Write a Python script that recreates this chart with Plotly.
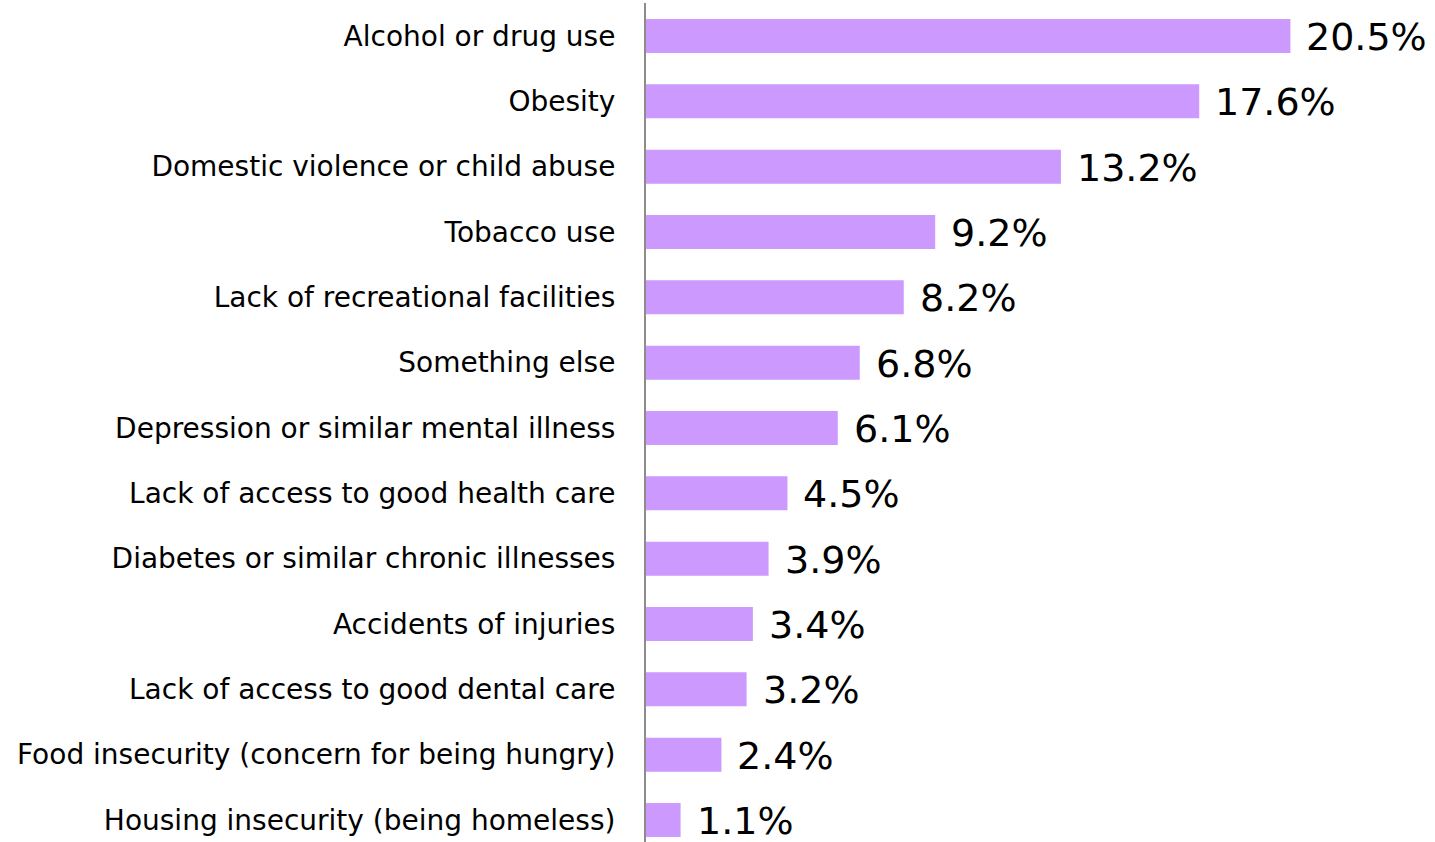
import plotly.graph_objects as go

# Categories top to bottom
categories = [
    "Alcohol or drug use",
    "Obesity",
    "Domestic violence or child abuse",
    "Tobacco use",
    "Lack of recreational facilities",
    "Something else",
    "Depression or similar mental illness",
    "Lack of access to good health care",
    "Diabetes or similar chronic illnesses",
    "Accidents of injuries",
    "Lack of access to good dental care",
    "Food insecurity (concern for being hungry)",
    "Housing insecurity (being homeless)",
]
values = [20.5, 17.6, 13.2, 9.2, 8.2, 6.8, 6.1, 4.5, 3.9, 3.4, 3.2, 2.4, 1.1]
value_labels = [f"{v:.1f}%" for v in values]

bar_color = "#CC99FF"
font_family = "DejaVu Sans"

fig = go.Figure()
fig.add_trace(go.Bar(
    x=values,
    y=categories,
    orientation="h",
    marker=dict(color=bar_color, line=dict(width=0)),
    width=0.52,
    hoverinfo="x+y",
))

# Value labels to the right of each bar
for cat, val, lab in zip(categories, values, value_labels):
    fig.add_annotation(
        x=val, y=cat, text=lab, showarrow=False,
        xanchor="left", yanchor="middle", xshift=14, yshift=-1,
        font=dict(family=font_family, size=38, color="#000000"),
    )

fig.update_layout(
    width=1435, height=842,
    margin=dict(l=646, r=0, t=3, b=0),
    paper_bgcolor="white",
    plot_bgcolor="white",
    showlegend=False,
    font=dict(family=font_family, size=28, color="#000000"),
)
fig.update_xaxes(
    range=[0, 25.1], visible=False, showgrid=False, zeroline=False,
)
fig.update_yaxes(
    type="category",
    categoryorder="array", categoryarray=categories,
    range=[12.337, -0.505],
    showgrid=False, zeroline=False,
    showline=True, linecolor="#8c8c8c", linewidth=2,
    ticks="", ticklabelstandoff=23,
    tickfont=dict(family=font_family, size=28, color="#000000"),
)

fig.write_html(
    "out.html",
    config={"displayModeBar": False},
    post_script="document.body.style.margin='0';",
)
